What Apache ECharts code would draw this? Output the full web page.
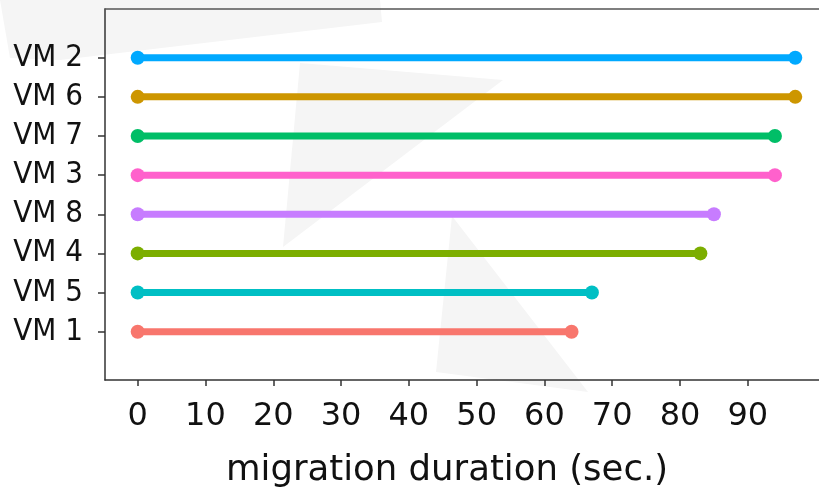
<!DOCTYPE html>
<html>
<head>
<meta charset="utf-8">
<script src="https://cdn.jsdelivr.net/npm/echarts@6/dist/echarts.min.js"></script>
<style>
  html, body { margin: 0; padding: 0; background: #fff; }
  #chart { width: 819px; height: 490px; }
</style>
</head>
<body>
<div id="chart"></div>
<script>
// bottom to top, as in the picture
const vmNames = ["VM 1", "VM 5", "VM 4", "VM 8", "VM 3", "VM 7", "VM 6", "VM 2"];
const startTimes = [0, 0, 0, 0, 0, 0, 0, 0];
const durations = [64, 67, 83, 85, 94, 94, 97, 97];
const vmColors = ["#F8766D", "#00BFC4", "#7CAE00", "#C77CFF", "#FF61CC", "#00BE67", "#CD9600", "#00A9FF"];
const xTicks = [0, 10, 20, 30, 40, 50, 60, 70, 80, 90];
const yTicks = [0, 1, 2, 3, 4, 5, 6, 7];

const chart = echarts.init(document.getElementById("chart"));

const series = vmNames.map((name, i) => ({
  name: name,
  type: "line",
  data: [
    [startTimes[i], i],
    [durations[i], i],
  ],
  symbol: "circle",
  symbolSize: 14,
  lineStyle: { width: 7, color: vmColors[i] },
  itemStyle: { color: vmColors[i] },
  animation: false,
  z: 5,
}));

// faint watermark shapes in the background
const wm = { fill: "#f5f5f5" };

chart.setOption({
  animation: false,
  graphic: [
    { type: "polygon", z: -10, silent: true, shape: { points: [[0, 0], [380, 0], [382, 22], [60, 60], [10, 58]] }, style: wm },
    { type: "polygon", z: -10, silent: true, shape: { points: [[300, 63], [503, 80], [283, 247]] }, style: wm },
    { type: "polygon", z: -10, silent: true, shape: { points: [[452, 216], [588, 392], [436, 372]] }, style: wm },
  ],
  grid: { left: 105, right: 0, top: 9, bottom: 110, outerBoundsMode: "none", containLabel: false },
  xAxis: [
    {
      type: "value",
      min: -4.82,
      max: 100.5,
      name: "migration duration (sec.)",
      nameLocation: "middle",
      nameGap: 73,
      nameTextStyle: { fontFamily: "DejaVu Sans", fontSize: 35.5, color: "#111", padding: [0, 30, 0, 0] },
      splitLine: { show: false },
      axisLine: { show: true, onZero: false, lineStyle: { color: "#333", width: 1.5 } },
      axisTick: { show: true, length: 6, customValues: xTicks, lineStyle: { color: "#333", width: 1.5 } },
      axisLabel: { customValues: xTicks, fontFamily: "DejaVu Sans", fontSize: 32, color: "#111", margin: 21 },
    },
    {
      type: "value",
      position: "top",
      min: -4.82,
      max: 100.5,
      splitLine: { show: false },
      axisLine: { show: true, onZero: false, lineStyle: { color: "#555", width: 1.5 } },
      axisTick: { show: false },
      axisLabel: { show: false },
    },
  ],
  yAxis: {
    type: "value",
    min: -1.234,
    max: 8.245,
    splitLine: { show: false },
    axisLine: { show: true, onZero: false, lineStyle: { color: "#333", width: 1.5 } },
    axisTick: { show: true, length: 7, customValues: yTicks, lineStyle: { color: "#333", width: 1.5 } },
    axisLabel: {
      customValues: yTicks,
      formatter: (v) => vmNames[Math.round(v)],
      fontFamily: "DejaVu Sans Condensed, DejaVu Sans",
      fontSize: 31,
      color: "#111",
      margin: 22,
    },
  },
  series: series,
});
</script>
</body>
</html>
